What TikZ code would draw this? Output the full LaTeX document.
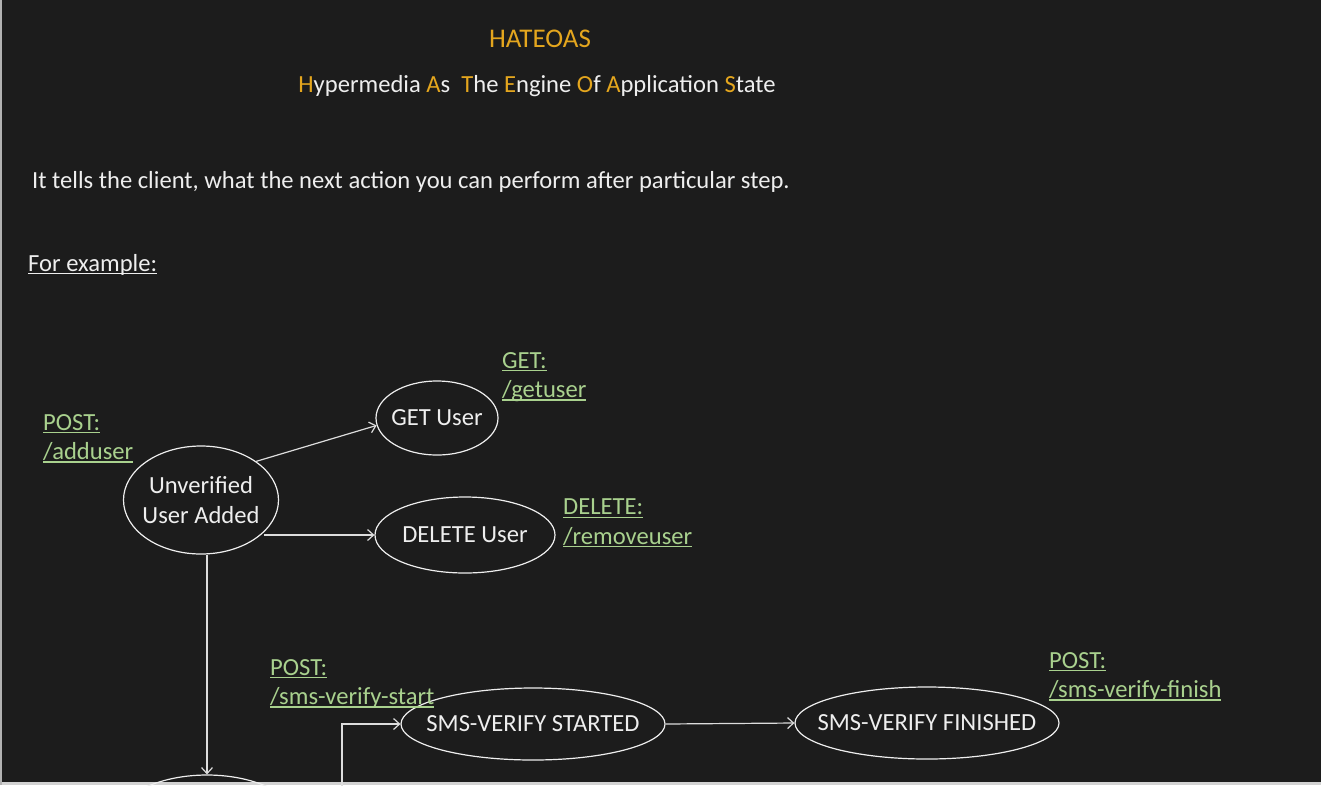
\documentclass[tikz,border=0pt]{standalone}
\usepackage{fontspec}
\setmainfont{Carlito}
\usetikzlibrary{shapes.geometric,arrows.meta}
\definecolor{slidebg}{RGB}{28,28,28}
\definecolor{hateorange}{RGB}{228,166,30}
\definecolor{linkgreen}{RGB}{169,209,142}
\definecolor{chalk}{RGB}{238,238,238}
\newcommand{\lnk}[1]{\setbox0\hbox{#1}\rlap{\rule[-3pt]{\wd0}{1.2pt}}\box0}
\newcommand{\hl}[1]{\textcolor{hateorange}{#1}}
\tikzset{
  every node/.style={
    font=\fontsize{24.6}{29.5}\selectfont,
    text=chalk,
    inner sep=0pt
  },
  state/.style={
    shape=ellipse,
    draw=chalk,
    line width=1.2pt
  },
  endpoint/.style={
    text=linkgreen,
    align=left,
    anchor=north west
  },
  flow/.style={
    draw=chalk!85!gray,
    line width=1.2pt,
    -{Straight Barb[length=6pt,width=11pt]}
  }
}

\begin{document}
\begin{tikzpicture}[x=1pt,y=-1pt]

\fill[slidebg] (0,0) rectangle (1321,785);
\useasboundingbox (0,0) rectangle (1321,785);
\clip (0,0) rectangle (1321,785);
\fill[gray!35] (0,782) rectangle (1321,785);
\fill[gray!60] (0,0) rectangle (1.5,785);

\node [text=hateorange, anchor=base, font=\fontsize{27}{32}\selectfont] (title) at (540,47) {HATEOAS};
\node [anchor=base] (expansion) at (537,92) {%
  \hl{H}ypermedia \hl{A}s\ \ \hl{T}he \hl{E}ngine \hl{O}f \hl{A}pplication \hl{S}tate};
\node [anchor=base west] (intro) at (32,188)
  {It tells the client, what the next action you can perform after particular step.};
\node [anchor=base west] (forexample) at (28,271) {\lnk{For example:}};

% states
\node [state, minimum width=155pt, minimum height=108pt,
  label={[align=center]center:Unverified\\User Added}] (unverified) at (201,500) {};
\node [state, minimum width=122pt, minimum height=74pt,
  label=center:GET User] (getuser) at (437,418) {};
\node [state, minimum width=180pt, minimum height=76pt,
  label=center:DELETE User] (deleteuser) at (465,535) {};
\node [state, minimum width=264pt, minimum height=72pt,
  label=center:SMS-VERIFY STARTED] (smsstart) at (533,724) {};
\node [state, minimum width=264pt, minimum height=72pt,
  label=center:SMS-VERIFY FINISHED] (smsfinish) at (927,723) {};
\node [state, minimum width=196pt, minimum height=110pt] (verified) at (207,830) {};
\coordinate (offpage) at (342,800);

% endpoints
\node [endpoint] (addlink) at (43,414) {\lnk{POST:}\\\lnk{/adduser}};
\node [endpoint] (getlink) at (502,352) {\lnk{GET:}\\\lnk{/getuser}};
\node [endpoint] (deletelink) at (563,499) {\lnk{DELETE:}\\\lnk{/removeuser}};
\node [endpoint] (startlink) at (270,659) {\lnk{POST:}\\\lnk{/sms-verify-start}};
\node [endpoint] (finishlink) at (1049,652) {\lnk{POST:}\\\lnk{/sms-verify-finish}};

% transitions
\draw [flow] (unverified.35) -- (getuser.187);
\draw [flow] (unverified.-27 |- deleteuser.west) -- (deleteuser.west);
\draw [flow] (verified.north |- unverified.south) -- (verified.north);
\draw [flow] (offpage) |- (smsstart.west);
\draw [flow] (smsstart.east) -- (smsfinish.west);

\end{tikzpicture}
\end{document}
